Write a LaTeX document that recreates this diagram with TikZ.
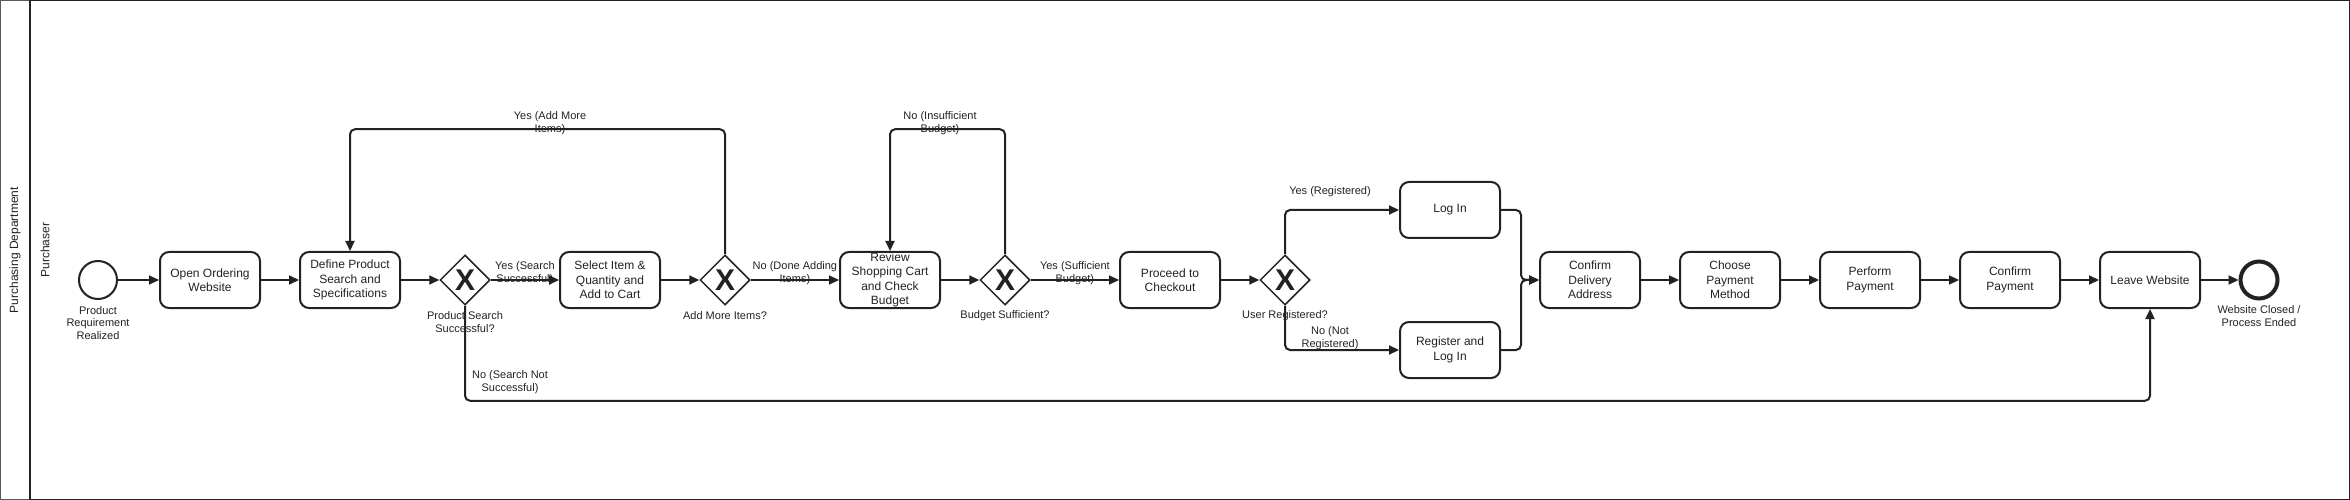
\documentclass[tikz,border=0pt]{standalone}
\usepackage{fontspec}
\setmainfont{Liberation Sans}
\usepackage{xcolor}
\usepackage{tikz}
\usetikzlibrary{arrows.meta}
\usetikzlibrary{shapes.geometric}
\definecolor{ink}{HTML}{222222}

\begin{document}
\begin{tikzpicture}[x=1bp,y=-1bp,
        every node/.style={text=ink,font=\fontsize{11bp}{13bp}\selectfont},
        task/.style={draw=ink,line width=2bp,rounded corners=9bp,minimum width=100bp,minimum height=56bp,inner sep=0pt,align=center,font=\fontsize{12bp}{14.4bp}\selectfont},
        gate/.style={draw=ink,line width=1.5bp,diamond,minimum width=50bp,minimum height=50bp,inner sep=0pt,font=\fontsize{30bp}{30bp}\selectfont\bfseries},
        flow/.style={draw=ink,line width=2bp,rounded corners=5bp,-{Triangle[length=10bp,width=9bp]}},
        lbl/.style={align=center,inner sep=0pt}]
            \useasboundingbox (0,0) rectangle (2350,500);
            \draw[ink!75,line width=1.5bp] (0.75,0.75) rectangle (2349.25,499.25);
            \draw[ink,line width=1.5bp] (30,0.75) -- (2349.25,0.75) -- (2349.25,499.25) -- (30,499.25);
            \draw[ink,line width=2.5bp] (30,0) -- (30,500);
            \node[rotate=90,font=\fontsize{12bp}{14bp}\selectfont] at (15,250) {Purchasing Department};
            \node[rotate=90,font=\fontsize{12bp}{14bp}\selectfont] at (45,250) {Purchaser};

            \node[circle,draw=ink,line width=2bp,minimum size=38bp,inner sep=0pt] (start) at (98,280) {};
            \node[lbl,font=\fontsize{11bp}{12.5bp}\selectfont] at (98,323) {Product\\Requirement\\Realized};
            \node[task] (open) at (210,280) {Open Ordering\\Website};
            \node[task] (define) at (350,280) {Define Product\\Search and\\Specifications};
            \node[gate] (g1) at (465,280) {X};
            \node[lbl] at (465,322) {Product Search\\Successful?};
            \node[task] (select) at (610,280) {Select Item \&\\Quantity and\\Add to Cart};
            \node[gate] (g2) at (725,280) {X};
            \node[lbl] at (725,316) {Add More Items?};
            \node[task] (review) at (890,280) {Review\\Shopping Cart\\and Check\\Budget};
            \node[gate] (g3) at (1005,280) {X};
            \node[lbl] at (1005,316) {Budget Sufficient?};
            \node[task] (checkout) at (1170,280) {Proceed to\\Checkout};
            \node[gate] (g4) at (1285,280) {X};
            \node[lbl] at (1285,316) {User Registered?};
            \node[task] (login) at (1450,210) {Log In};
            \node[task] (register) at (1450,350) {Register and\\Log In};
            \node[task] (address) at (1590,280) {Confirm\\Delivery\\Address};
            \node[task] (method) at (1730,280) {Choose\\Payment\\Method};
            \node[task] (perform) at (1870,280) {Perform\\Payment};
            \node[task] (confirm) at (2010,280) {Confirm\\Payment};
            \node[task] (leave) at (2150,280) {Leave Website};
            \node[circle,draw=ink,line width=4bp,minimum size=37bp,inner sep=0pt] (finish) at (2259,280) {};
            \node[lbl] at (2259,316) {Website Closed /\\Process Ended};

            \draw[flow] (start)--(open);
            \draw[flow] (open)--(define);
            \draw[flow] (define)--(g1);
            \draw[flow] (g1)--node[lbl,yshift=7bp]{Yes (Search\\Successful)}(select);
            \draw[flow] (select)--(g2);
            \draw[flow] (g2)--node[lbl,yshift=7bp]{No (Done Adding\\Items)}(review);
            \draw[flow] (review)--(g3);
            \draw[flow] (g3)--node[lbl,yshift=7bp]{Yes (Sufficient\\Budget)}(checkout);
            \draw[flow] (checkout)--(g4);
            \draw[flow] (g2.north)--++(0,-125)-|(define.north);
            \node[lbl] at (550,123) {Yes (Add More\\Items)};
            \draw[flow] (g3.north)--++(0,-125)-|(review.north);
            \node[lbl] at (940,123) {No (Insufficient\\Budget)};
            \draw[flow] (g1.south)--++(0,95)-|(leave.south);
            \node[lbl] at (510,382) {No (Search Not\\Successful)};
            \draw[flow] (g4.north)|-(login.west);
            \node[lbl] at (1330,192) {Yes (Registered)};
            \draw[flow] (g4.south)|-(register.west);
            \node[lbl] at (1330,338) {No (Not\\Registered)};
            \draw[flow] (login.east)--++(20,0)|-(address.west);
            \draw[flow] (register.east)--++(20,0)|-(address.west);
            \draw[flow] (address)--(method);
            \draw[flow] (method)--(perform);
            \draw[flow] (perform)--(confirm);
            \draw[flow] (confirm)--(leave);
            \draw[flow] (leave)--(finish);
        \end{tikzpicture}
\end{document}
